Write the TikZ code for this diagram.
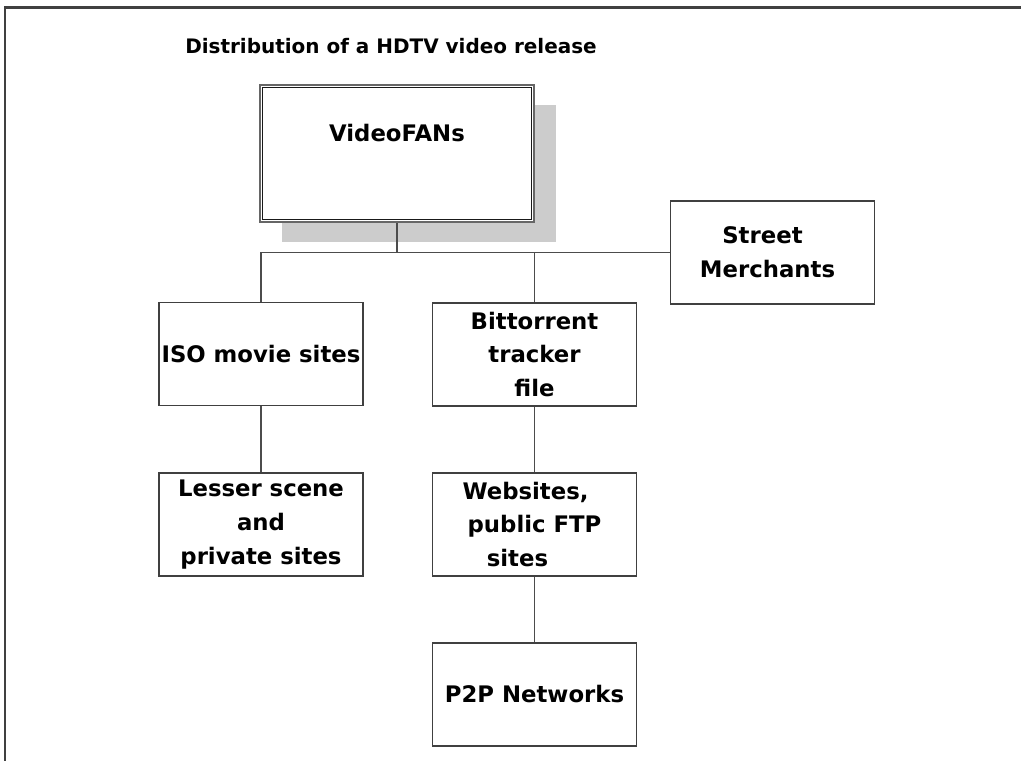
\documentclass[tikz,border=0pt]{standalone}
\usepackage{fontspec}
\setmainfont{DejaVu Sans}
\usetikzlibrary{positioning,shadows}

\tikzset{
  orgbox/.style={draw=black!75,line width=1.3pt,fill=white,minimum width=5.1cm,minimum height=2.575cm,
    align=center,inner sep=1pt,font=\bfseries\fontsize{16.2}{24}\selectfont},
  fanbox/.style={orgbox,draw=black!60,line width=1.6pt,minimum width=6.85cm,minimum height=3.425cm,
    drop shadow={shadow xshift=0.55cm,shadow yshift=-0.5cm,fill=black!20,opacity=1}},
  link/.style={draw=black!70,line width=1.4pt},
}

\begin{document}
\begin{tikzpicture}[x=0.025cm,y=-0.025cm]
  \useasboundingbox (0,0) rectangle (1021,761);
  \draw[black!75,line width=1.5pt] (5,761) -- (5,7.5) -- (1021,7.5);

  \node[anchor=west,inner sep=0pt,font=\bfseries\fontsize{14.2}{18}\selectfont] (title) at (185,46) {Distribution of a HDTV video release};

  % top box with double frame
  \node[fanbox] (fans) at (397,153.5) {};
  \draw[black!90,line width=0.9pt] ([shift={(4,4)}]fans.north west) rectangle ([shift={(-4,-4)}]fans.south east);
  \node[inner sep=0pt,font=\bfseries\fontsize{16.2}{24}\selectfont] (fanstext) at (397,133) {VideoFANs};

  \node[orgbox] (street) at (772.5,252.5) {Street\hspace*{0.5cm}\\Merchants\hspace*{0.25cm}};
  \node[orgbox] (iso) at (261,354) {ISO movie sites};
  \node[orgbox] (torrent) at (534.5,354.5) {Bittorrent\\tracker\\file};
  \node[orgbox] (lesser) at (261,524.5) {Lesser scene\\and\\private sites};
  \node[orgbox] (webs) at (534.5,524.5) {Websites,\hspace*{0.45cm}\\public FTP\hspace*{0.7cm}\\sites\hspace*{0.85cm}};
  \node[orgbox] (ptp) at (534.5,694.5) {P2P Networks};

  \draw[link] (fans.south) -- (fans.south |- street.west);
  \draw[link] (iso.north) |- (street.west);
  \draw[link] (torrent.north) -- (torrent.north |- street.west);
  \draw[link] (iso) -- (lesser);
  \draw[link] (torrent) -- (webs);
  \draw[link] (webs) -- (ptp);
\end{tikzpicture}
\end{document}
